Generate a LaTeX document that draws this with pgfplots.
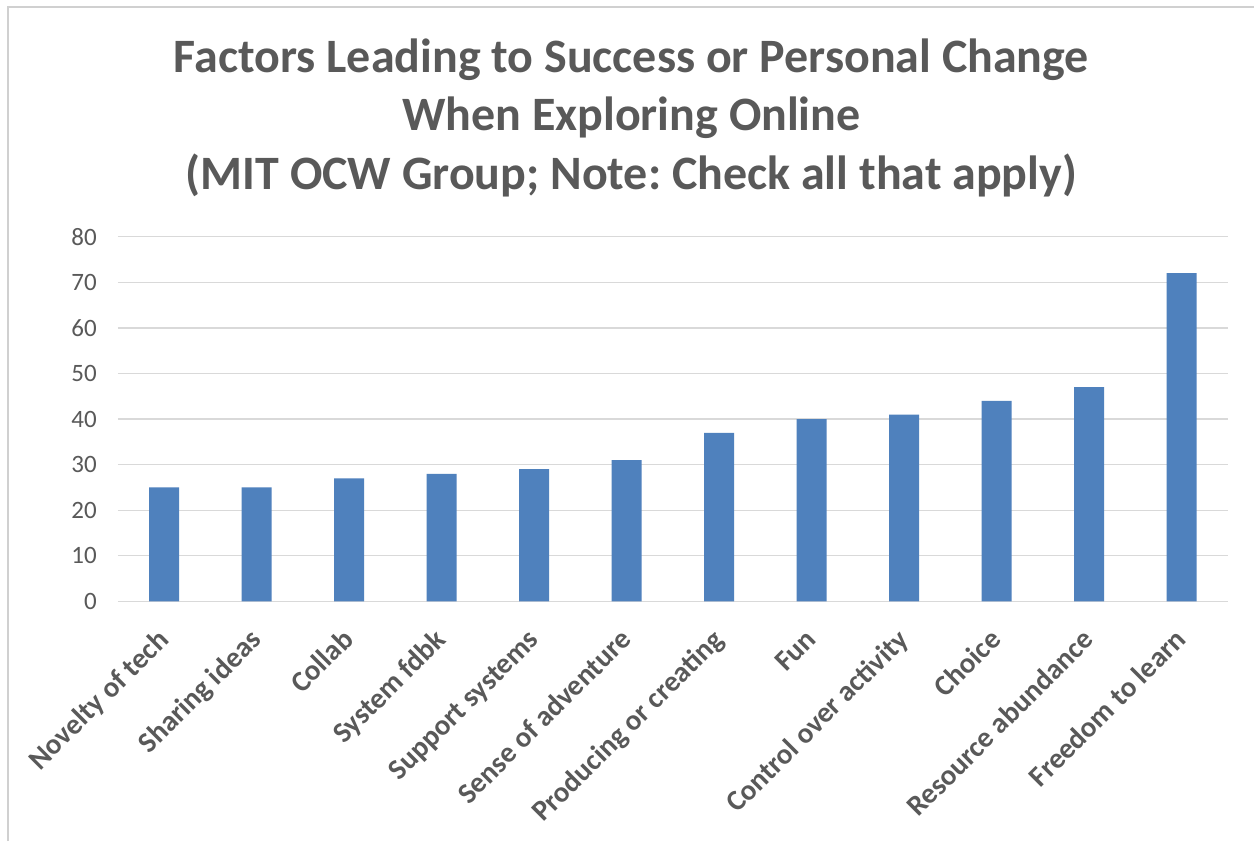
\documentclass[border=0pt]{standalone}
\usepackage{pgfplots}
\pgfplotsset{compat=1.18}
\usepackage{fontspec}
\setmainfont{Carlito}
\frenchspacing
\definecolor{txtgray}{HTML}{595959}
\definecolor{gridgray}{HTML}{D9D9D9}
\definecolor{barblue}{HTML}{4F81BD}
\definecolor{bordergray}{HTML}{D0D0D0}
\begin{document}
\begin{tikzpicture}[x=1pt,y=1pt]
\path[fill=white] (0,0) rectangle (1255,842);
\draw[bordergray, line width=2.5pt] (8,0) -- (8,835) -- (1255,835);
\node[anchor=base, text=txtgray, font=\fontsize{48}{56}\selectfont\bfseries] at (632,769) {Factors Leading to Success or Personal Change};
\node[anchor=base, text=txtgray, font=\fontsize{48}{56}\selectfont\bfseries] at (632,711) {When Exploring Online};
\node[anchor=base, text=txtgray, font=\fontsize{48}{56}\selectfont\bfseries] at (632,652) {(MIT OCW Group; Note: Check all that apply)};
\begin{axis}[
  at={(118pt,240pt)}, anchor=south west,
  width=1111pt, height=365pt, scale only axis,
  xmin=-0.5, xmax=11.5, ymin=0, ymax=80,
  ytick={0,10,...,80},
  xtick=data,
  xticklabels={Novelty of tech,Sharing ideas,Collab,System fdbk,Support systems,Sense of adventure,Producing or creating,Fun,Control over activity,Choice,Resource abundance,Freedom to learn},
  axis line style={draw=none},
  major tick length=0pt,
  ymajorgrids,
  grid style={gridgray, line width=1.3pt},
  /pgf/number format/assume math mode=true,
  yticklabel style={font=\fontsize{25}{30}\selectfont, text=txtgray, inner sep=0pt, anchor=east, xshift=-21pt},
  xticklabel style={font=\fontsize{29}{34}\selectfont\bfseries, text=txtgray, inner sep=0pt, text height=0.7em, text depth=0.2em, xshift=1pt, yshift=-35pt, rotate=45, anchor=north east},
  ybar, bar width=30pt,
]
\addplot[fill=barblue, draw=none] coordinates {
(0,25) (1,25) (2,27) (3,28) (4,29) (5,31) (6,37) (7,40) (8,41) (9,44) (10,47) (11,72)
};
\end{axis}
\end{tikzpicture}
\end{document}
